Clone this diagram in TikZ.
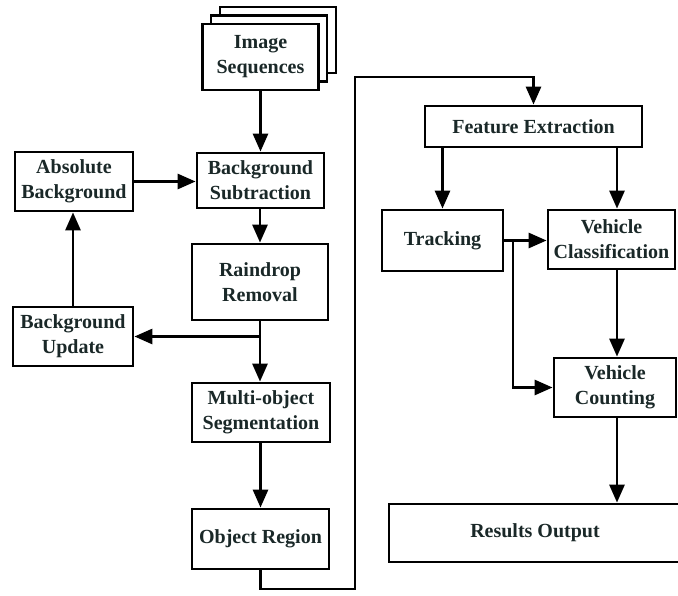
\documentclass[tikz,border=0pt]{standalone}
\usepackage{fontspec}
\setmainfont{Liberation Serif}
\usetikzlibrary{arrows.meta}
\definecolor{inkc}{HTML}{1A2828}
\tikzset{
  box/.style={draw=black, line width=2.8pt, fill=white, rectangle, inner sep=0pt,
    align=center, text=inkc, font=\fontsize{20}{25}\selectfont\bfseries},
  arr/.style={line width=2.8pt, -{Triangle[length=18pt,width=15pt]}},
  wire/.style={line width=2.8pt}
}
\newcommand{\bx}[6]{% name, cx, cy, w, h, text
  \node[box, minimum width=#4pt, minimum height=#5pt] (#1) at (#2,#3) {#6};}
\begin{document}
\begin{tikzpicture}[x=1pt,y=-1pt]
\useasboundingbox (0,0) rectangle (678,595);
\fill[white] (0,0) rectangle (678,595);

% stacked frames for the image sequence
\node[box, minimum width=116pt, minimum height=66pt] (imgC) at (278,40) {};
\node[box, minimum width=116pt, minimum height=66pt] (imgB) at (269,48.5) {};
\bx{img}{260.5}{57}{116}{66}{Image\\Sequences}

% left column
\bx{bs}{260.5}{180.5}{127}{55}{Background\\Subtraction}
\bx{ab}{74}{181.5}{118}{59}{Absolute\\Background}
\bx{rr}{260}{282}{136}{76}{Raindrop\\Removal}
\bx{bu}{73}{336.5}{120}{59}{Background\\Update}
\bx{ms}{261}{412.5}{138}{59}{Multi-object\\Segmentation}
\bx{orr}{260.5}{539}{137}{60}{Object Region}

% right column
\bx{fe}{533.5}{126.5}{217}{41}{Feature Extraction}
\bx{tr}{442.5}{240.5}{121}{61}{Tracking}
\bx{vcl}{611.5}{239.5}{127}{59}{Vehicle\\Classification}
\bx{vco}{615}{387.5}{122}{59}{Vehicle\\Counting}
\bx{ro}{535}{533}{292}{58}{Results Output}

% routing helpers
\coordinate (c1) at (355,589);
\coordinate (c2) at (355,77);
\coordinate (colR) at (617,0);
\coordinate (brx) at (513,0);

% left column connectors
\draw[arr] (img.south) -- (img.south |- bs.north);
\draw[arr] (ab.east) -- (ab.east -| bs.west);
\draw[arr] (bs.south -| rr.north) -- (rr.north);
\draw[arr] (rr.south) -- (rr.south |- ms.north);
\draw[arr] (rr.south |- bu.east) -- (bu.east);
\draw[arr] (bu.north) -- (bu.north |- ab.south);
\draw[arr] (ms.south -| orr.north) -- (orr.north);

% long link to the feature extraction stage
\draw[arr] (orr.south) |- (c1) -- (c2) -| (fe.north);

% right column connectors
\draw[arr] (fe.south -| tr.north) -- (tr.north);
\draw[arr] (colR |- fe.south) -- (colR |- vcl.north);
\draw[arr] (tr.east) -- (tr.east -| vcl.west);
\draw[arr] (tr.east -| brx) |- (vco.west);
\draw[arr] (colR |- vcl.south) -- (colR |- vco.north);
\draw[arr] (colR |- vco.south) -- (colR |- ro.north);
\end{tikzpicture}
\end{document}
